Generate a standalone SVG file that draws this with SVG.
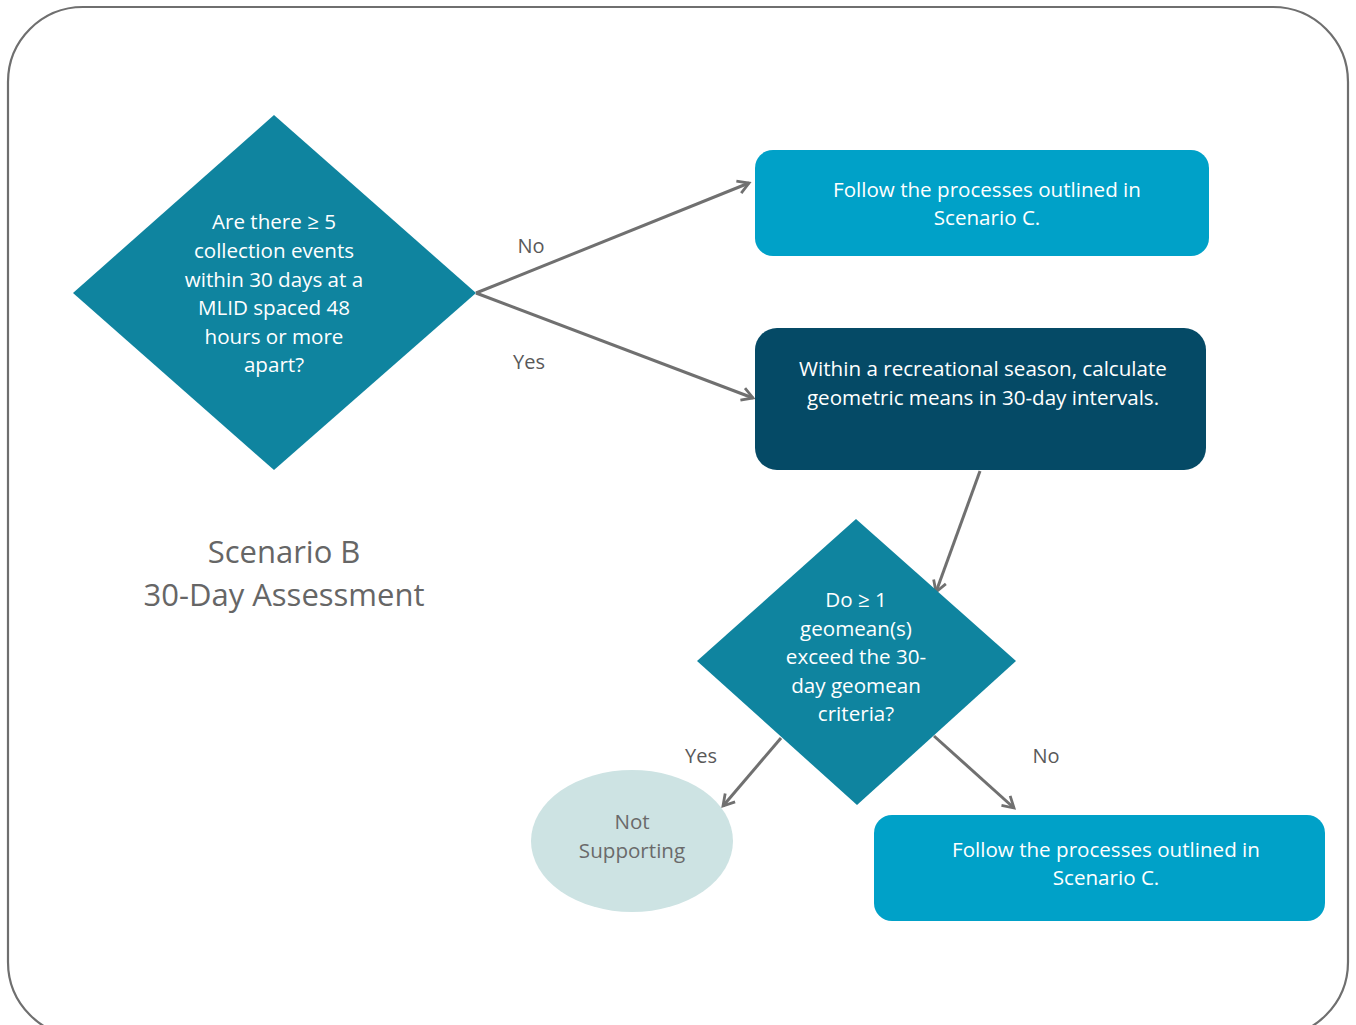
<svg xmlns="http://www.w3.org/2000/svg" width="1356" height="1025" viewBox="0 0 1356 1025">
<defs>
<marker id="arr" markerWidth="16" markerHeight="16" refX="13" refY="8" orient="auto" markerUnits="userSpaceOnUse" viewBox="0 0 16 16">
<path d="M2,1.5 L13,8 L2,14.5" fill="none" stroke="#707070" stroke-width="2.8"/>
</marker>
<style>
text{font-family:"Open Sans","Noto Sans","Liberation Sans",sans-serif;text-anchor:middle}
.w{fill:#ffffff;font-size:20.6px}
.lbl{fill:#595959;font-size:20px}
.conn{stroke:#707070;stroke-width:3;fill:none;marker-end:url(#arr)}
</style>
</defs>
<rect x="8" y="7" width="1340" height="1030" rx="75" ry="75" fill="#ffffff" stroke="#6f6f6f" stroke-width="2.2"/>
<g id="connectors">
<line class="conn" x1="476" y1="293" x2="749" y2="183"/>
<line class="conn" x1="476" y1="293" x2="753" y2="398"/>
<line class="conn" x1="980" y1="471" x2="936" y2="592"/>
<line class="conn" x1="781" y1="738" x2="723" y2="806"/>
<line class="conn" x1="934" y1="736" x2="1014" y2="808"/>
<text class="lbl" x="531" y="253">No</text>
<text class="lbl" x="529" y="369">Yes</text>
<text class="lbl" x="701" y="763">Yes</text>
<text class="lbl" x="1046" y="763">No</text>
</g>
<g id="q1">
<polygon points="274,115 476,293 274,470 73,293" fill="#0f849f"/>
<text class="w" x="274" y="229">Are there ≥ 5</text>
<text class="w" x="274" y="258">collection events</text>
<text class="w" x="274" y="287">within 30 days at a</text>
<text class="w" x="274" y="315">MLID spaced 48</text>
<text class="w" x="274" y="344">hours or more</text>
<text class="w" x="274" y="372">apart?</text>
</g>
<g id="scenarioC1">
<rect x="755" y="150" width="454" height="106" rx="18" fill="#00a1c8"/>
<text class="w" x="987" y="197">Follow the processes outlined in</text>
<text class="w" x="987" y="225">Scenario C.</text>
</g>
<g id="calc">
<rect x="755" y="328" width="451" height="142" rx="22" fill="#054a66"/>
<text class="w" x="983" y="376">Within a recreational season, calculate</text>
<text class="w" x="983" y="405">geometric means in 30-day intervals.</text>
</g>
<g id="q2">
<polygon points="856,519 1016,661 857,805 697,661" fill="#0f849f"/>
<text class="w" x="856" y="607">Do ≥ 1</text>
<text class="w" x="856" y="636">geomean(s)</text>
<text class="w" x="856" y="664">exceed the 30-</text>
<text class="w" x="856" y="693">day geomean</text>
<text class="w" x="856" y="721">criteria?</text>
</g>
<g id="notSupporting">
<ellipse cx="632" cy="841" rx="101" ry="71" fill="#cde3e3"/>
<text class="lbl" x="632" y="829" style="fill:#6a6a6a;font-size:20.6px">Not</text>
<text class="lbl" x="632" y="858" style="fill:#6a6a6a;font-size:20.6px">Supporting</text>
</g>
<g id="scenarioC2">
<rect x="874" y="815" width="451" height="106" rx="18" fill="#00a1c8"/>
<text class="w" x="1106" y="857">Follow the processes outlined in</text>
<text class="w" x="1106" y="885">Scenario C.</text>
</g>
<g id="title">
<text x="284" y="563" style="fill:#666666;font-size:31px">Scenario B</text>
<text x="284" y="606" style="fill:#666666;font-size:31px">30-Day Assessment</text>
</g>
</svg>
